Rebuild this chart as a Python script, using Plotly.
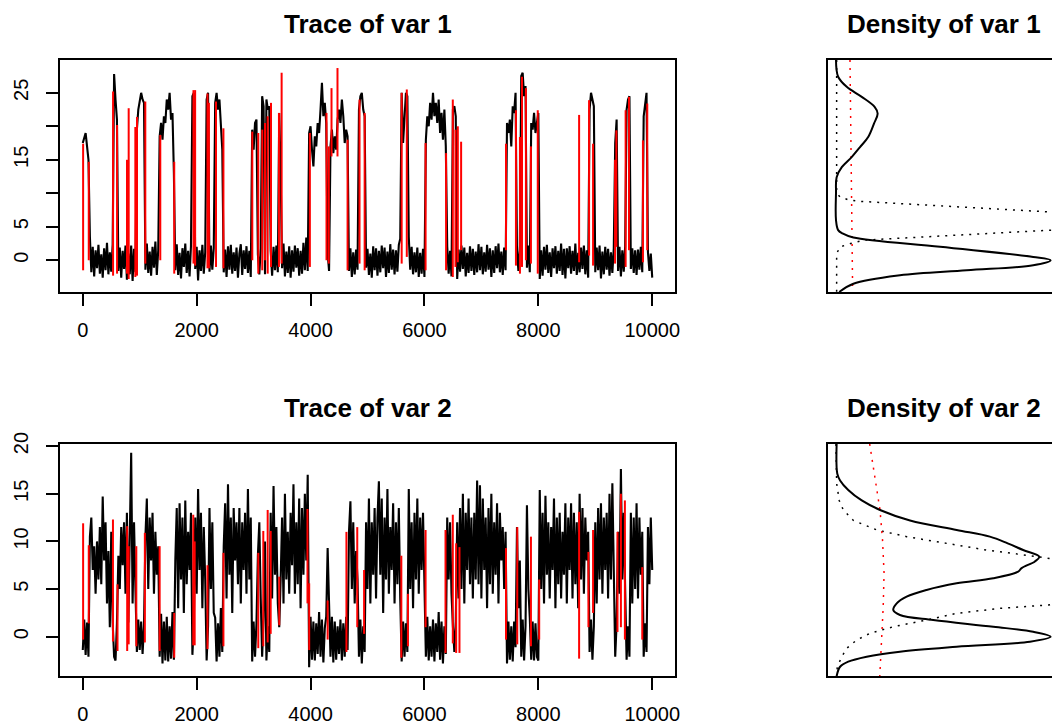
import plotly.graph_objects as go

# ---------------- data ----------------
iterations = list(range(0, 10001, 25))

var1_chain1 = [
    17.5, 18.5, 19.0, 17.0, 15.0, 3.5, -1.8, 2.0, -2.4, 1.5, -1.2, 2.3, -2.0, 0.9, -2.6, 1.8, -1.5, 2.6, -2.1, 1.2,
    -1.7, 2.4, 27.8, 24.0, 21.0, -1.6, 1.9, -2.6, 1.4, -1.3, 2.2, -2.9, 1.0, -2.1, 2.2, -3.1, 1.7, -1.8, 19.5, 22.5,
    23.5, 25.0, 24.0, 23.5, -1.4, 2.5, -1.9, 1.3, -2.3, 2.0, -1.1, 2.8, -2.2, 1.5, 18.5, 20.5, 18.0, 21.5, 20.5, 24.0,
    22.5, 25.0, 21.0, 22.0, 13.0, -1.5, 2.4, -2.2, 1.1, -2.7, 1.8, -1.0, 2.5, -1.9, 1.4, -2.4, 2.1, 24.5, 25.0, -1.3,
    2.0, -3.0, 1.5, -1.6, 2.3, -2.0, 1.2, 24.0, 25.0, -1.7, 2.2, -1.4, 1.8, 23.5, 25.0, 22.5, 24.0, 20.0, 16.5, -1.8,
    1.6, -2.5, 2.1, -1.4, 2.3, -2.0, 1.2, -1.6, 1.9, -2.6, 1.0, 2.4, -2.2, 1.5, -1.3, 2.1, -1.9, 1.4, -2.5, 19.5,
    16.5, 20.5, 21.0, 0.9, -2.1, 1.8, 24.5, 23.0, -2.1, 24.0, 22.5, 23.0, 1.4, -2.3, 2.0, -1.5, 2.2, -1.8, 22.0, 13.0,
    -1.2, 2.5, -2.4, 1.3, -1.9, 2.1, -2.6, 1.5, -1.7, 2.2, -1.1, 1.8, -2.3, 1.4, -2.0, 2.6, -1.5, 3.4, -1.6, 19.0,
    20.0, 16.5, 14.0, 18.5, 17.0, 20.5, 19.0, 22.5, 26.5, 21.5, 23.5, 20.5, 1.1, -1.6, 17.0, 19.5, 16.0, 18.5, 16.5, 21.0,
    22.5, 20.5, 24.0, 21.5, 17.5, 19.5, 18.5, -1.6, 1.8, -2.5, 1.2, -2.1, 1.6, -1.4, 22.5, 24.5, 25.0, 22.5, 21.5, -1.1,
    1.7, -2.2, 1.0, -2.6, 2.1, -1.5, 1.8, -2.3, 1.4, -1.8, 2.2, -1.2, 1.9, -2.5, 1.3, -1.9, 2.4, -1.4, 1.6, -2.1,
    1.5, -1.7, 2.3, 3.2, 25.0, 17.5, 22.0, 25.0, 24.5, 3.5, -1.4, 2.0, -2.1, 1.2, -1.8, 1.9, -2.5, 1.1, -2.0, 1.7,
    -2.5, 18.0, 21.5, 20.0, 23.5, 21.0, 25.0, 21.5, 23.5, 20.5, 24.0, 19.0, 22.0, 18.0, 22.5, 17.0, 2.1, -2.0, 1.4, -2.4,
    22.5, 23.0, 21.5, -2.8, 1.6, -1.7, 2.2, -1.3, 1.9, -2.4, 1.1, -1.9, 2.1, -1.6, 1.7, -2.2, 1.3, -1.8, 2.4, -1.5,
    2.0, -2.1, 1.2, -1.7, 2.3, -1.4, 1.8, -2.5, 1.5, -1.9, 2.1, -1.2, 2.5, -1.8, 1.3, -2.2, 1.9, -1.5, 20.5, 19.0,
    21.0, 17.0, 23.0, 22.0, 25.0, 1.4, -1.6, 2.1, 27.5, 28.0, 24.5, 26.0, -1.1, 2.2, -1.8, 20.5, 19.5, 22.0, 19.0, 21.0,
    22.0, -2.8, 1.5, -2.3, 2.0, -1.4, 2.3, -1.9, 1.2, -2.5, 1.8, -1.2, 2.1, -2.0, 1.4, -1.6, 2.5, -2.2, 1.7, -2.7,
    1.8, -1.2, 2.1, -2.0, 1.4, -1.6, 2.5, -2.2, 1.1, -1.8, 1.9, -1.3, 2.2, -2.1, 1.5, -2.6, 22.5, 25.0, 24.0, 23.0,
    -1.8, 1.9, -1.5, 2.2, -2.7, 1.3, -2.1, 2.0, -1.4, 1.7, -2.3, 1.2, -1.9, 1.8, 17.5, 21.0, -1.6, 2.0, -2.4, 1.5,
    -1.7, 2.1, 22.5, 24.0, 24.5, -1.3, 1.8, -1.9, 1.5, -2.2, 1.6, -1.4, 2.0, -1.8, 21.5, 23.0, 25.0, 1.2, -1.6, 1.0,
    -2.6,
]

var2_chain1 = [
    -1.4, 1.8, -1.9, 1.5, -2.1, 10.5, 12.5, 7.0, 9.5, 4.5, 10.0, 6.0, 11.5, 5.5, 14.7, 8.0, 12.0, 3.5, 9.0, 1.0,
    11.0, 1.5, -2.1, -2.5, 1.4, 8.5, 5.0, 11.5, 7.5, 12.0, 4.5, 13.0, 1.5, 9.0, 19.3, 3.5, 12.0, 5.0, -1.6, 1.8,
    -1.4, 1.6, -1.8, 1.1, 10.5, 14.5, 5.0, 12.5, 8.0, 13.0, 4.5, 11.0, 6.5, 9.5, -2.1, 2.4, -2.8, 1.6, -2.5, 2.1,
    -2.6, 1.1, -2.3, 2.6, -2.4, 8.0, 13.5, 3.0, 14.0, 6.0, 12.5, 2.5, 14.3, 5.5, 11.0, 7.0, 13.0, -1.9, 1.4, 12.5,
    4.5, 15.5, 7.0, 13.0, 3.0, 11.5, 6.0, -2.5, 1.1, 13.5, 5.0, 12.0, 2.5, 2.0, -2.6, 1.4, -2.1, 3.0, -1.6, 9.5,
    14.0, 4.0, 16.0, 6.5, 12.5, 2.5, 13.5, 8.0, 12.0, 5.5, 13.5, 3.5, 12.0, 7.0, 13.0, 4.5, 15.5, 6.0, 12.5, -2.6,
    1.6, -2.1, 1.4, 8.5, 12.0, 4.0, -2.1, 2.1, 10.0, -2.5, 1.1, -1.6, 13.0, 4.0, 15.8, 6.5, 11.5, 3.5, 1.0, 6.0,
    12.5, 3.5, 15.0, 6.0, 11.0, 4.5, 13.0, 7.5, 16.0, 4.5, 12.0, 5.5, 14.5, 3.0, 13.5, 6.5, 15.0, 8.0, 17.0, -3.2,
    2.1, -2.4, 1.6, -2.5, 1.4, -1.8, 2.6, -2.1, 1.8, -2.7, 0.9, 2.1, 9.3, 3.5, -2.1, 2.1, -2.7, 1.6, -2.4, 1.1,
    -1.8, 1.8, -2.5, 1.4, -2.1, 2.1, -1.4, 11.0, 14.2, 5.0, 12.0, 3.5, 9.0, 6.0, -2.1, 1.8, -2.8, 1.1, -1.6, 12.0,
    5.0, 14.5, 3.5, 12.0, 6.5, 13.5, 4.0, 12.5, 16.3, 6.5, 14.5, 2.5, 12.5, 6.0, 15.5, 4.5, 11.5, 7.0, 14.0, 3.5,
    12.0, 5.5, 13.5, 4.0, -2.6, 1.6, -2.1, 1.4, -1.6, 15.5, 5.0, 12.0, 3.0, 13.0, 6.0, 14.5, 4.5, 12.5, 7.0, 13.0,
    6.0, -2.1, 2.1, -2.5, 1.1, -2.1, 1.8, -2.6, 1.4, -1.6, 2.6, -2.4, 1.6, -2.8, 1.1, -1.8, 12.5, 6.0, 12.0, 4.5,
    1.1, -1.6, 1.6, 12.0, 4.0, 13.5, 5.0, 15.0, 3.5, 13.0, 7.0, 14.5, 5.5, 12.5, 4.0, 13.0, 6.0, 16.4, 5.5, 15.9,
    4.0, 14.5, 7.0, 12.5, 3.0, 13.5, 5.5, 15.0, 4.5, 12.0, 6.5, 14.0, 3.5, 13.0, 8.0, 11.5, 5.0, 11.0, -2.8, 1.6,
    -2.4, 1.1, -2.6, 1.6, -1.1, 11.5, 3.0, 8.0, -2.1, 1.8, -2.5, 1.1, 13.8, 5.0, 2.0, -2.4, 1.6, -2.5, 1.4, -2.1,
    -2.5, 15.4, 5.0, 13.0, 3.5, 14.8, 6.5, 12.0, 4.0, 11.5, 7.0, 14.5, 3.0, 12.5, 5.5, 13.0, 4.0, 11.0, 6.5, 14.0,
    3.5, 12.5, 7.0, 14.0, 4.0, 13.0, 5.5, 12.0, 3.0, 15.0, 6.0, 13.5, 4.5, 12.5, 8.0, 11.0, -1.6, 1.8, -2.4, 1.1,
    12.0, 3.5, 13.5, 6.0, 14.0, 4.5, 12.5, 7.0, 13.0, 4.0, 15.0, 6.0, 16.1, 5.5, -2.1, 1.4, 11.0, 4.5, 17.6, 6.0,
    13.0, 5.0, -2.4, 1.1, -2.1, 13.0, 3.5, 12.5, 5.0, 14.0, 4.0, 12.5, 6.5, 11.0, -2.1, 1.4, -1.6, 11.5, 5.5, 12.5,
    7.0,
]

# chain 2 (red): jumps of the chain (iteration, value before, value after)
var1_chain2_iter = [6, 105, 532, 602, 777, 806, 923, 952, 1098, 1361, 1606, 1944, 1973,
                    2190, 2215, 2340, 2470, 2977, 3082, 3152, 3200, 3247, 3305, 3445, 3492,
                    3988, 4280, 4320, 4368, 4473, 4650, 4860, 4950, 5600, 5690, 6020, 6380,
                    6498, 6545, 6586, 6644, 7432, 7607, 7677, 7713, 7782, 7870, 7990, 8716,
                    8891, 8961, 9347, 9370, 9533, 9592, 9837, 9913]
var1_chain2_from = [-1.5, 14.7, -2.3, 20.2, -2.0, -2.8, -2.5, -2.3, 23.7, 0.0, 14.7, -0.5, 25.4,
                    -1.2, 23.5, -1.0, 19.7, 0.0, -2.0, -1.5, 0.0, -2.0, 23.5, -1.0, 28.0,
                    -1.0, 22.0, -0.5, 15.5, 15.5, 18.0, -0.5, 22.0, -0.5, 25.5, -1.5, 16.0,
                    -2.5, 19.5, 20.0, 17.7, 1.5, 22.4, -2.0, -1.0, 25.7, -0.5, 22.4, -0.3,
                    0.7, 17.4, -0.5, 19.4, -1.0, 24.4, -0.3, 23.4]
var1_chain2_to = [17.4, 0.0, 25.2, -2.0, 15.0, 22.7, 19.9, 21.4, -0.5, 18.7, -2.0, 25.4, -0.8,
                  24.9, -1.2, 23.7, -1.2, 19.2, 19.0, 19.5, 20.5, 21.5, -1.0, 22.0, -0.5,
                  19.0, 0.0, 17.0, 25.7, 28.7, -1.5, 24.0, -1.5, 25.0, 0.5, 17.5, -1.5,
                  24.0, -1.0, -0.3, 1.5, 17.4, -0.8, 18.4, 27.4, 0.0, 17.0, -2.0, 21.7,
                  23.9, -0.8, 15.0, 2.0, 22.4, 1.5, 17.9, 1.5]

var2_chain2_iter = [6, 105, 530, 610, 780, 806, 940, 1090, 1350, 1606, 1940, 1965, 2190, 2470,
                    3082, 3170, 3247, 3300, 3450, 3946, 3976, 4300, 4630, 4820, 4940, 5594,
                    5710, 6020, 6370, 6498, 6557, 6615, 7432, 7630, 7870, 8015, 8716, 8880,
                    8961, 9390, 9450, 9520, 9825]
var2_chain2_from = [-0.3, 1.4, 12.3, -1.5, 11.6, -0.8, 9.5, -0.6, 9.5, -2.2, 12.8, -0.9, 7.5, -1.0,
                    -1.2, -1.0, -0.6, 11.1, 6.3, 13.4, 5.6, -0.3, -1.6, 11.5, 7.0, 8.5,
                    -1.0, 11.2, -1.7, 12.8, 9.8, 9.4, 9.3, 11.5, 10.5, -0.3, 13.1, 8.9,
                    2.5, 11.0, 15.0, 14.3, 7.3]
var2_chain2_to = [11.9, 9.6, -0.5, 5.5, -1.5, 9.5, -1.0, 10.9, -1.5, 2.5, -0.9, 10.0, -1.3, 8.8,
                  8.8, 11.1, 13.3, 0.3, 1.2, 3.5, -1.4, 3.8, 11.0, 1.0, 0.3, -2.2,
                  4.5, 1.0, 11.2, -0.7, -1.7, -1.7, -0.3, -0.8, -1.0, 6.0, -2.3, 1.0,
                  11.2, 0.5, 1.0, -0.3, -0.3]

# densities (value, relative density)
dens1_value = [29.9, 27.4, 25.9, 24.4, 22.9, 21.9, 20.4, 18.4, 16.9, 15.4, 13.9, 12.4, 10.0, 6.0,
               4.5, 4.0, 3.4, 2.0, 0.5, 0.0, -0.75, -1.5, -2.24, -3.5, -4.74]
dens1_solid = [0.0, 0.01, 0.05, 0.12, 0.18, 0.194, 0.177, 0.15, 0.112, 0.073, 0.027, 0.003, 0.0, 0.0,
               0.01, 0.03, 0.081, 0.485, 0.919, 1.0, 0.919, 0.609, 0.298, 0.081, 0.015]
dens1_dot_value = [29.9, 10.0, 9.46, 9.07, 8.82, 8.47, 7.97, 7.47, 7.22, 6.0, 5.0, 4.48, 3.24, 3.0,
                   2.49, 2.0, 1.0, -4.74]
dens1_dot = [0.003, 0.003, 0.019, 0.054, 0.10, 0.298, 0.577, 0.84, 0.99, 1.6, 1.5, 0.99, 0.236, 0.13,
             0.068, 0.019, 0.003, 0.003]
dens1_red_value = [29.9, 18.9, 9.0, -4.74]
dens1_red = [0.0652, 0.0699, 0.0745, 0.0776]

dens2_value = [20.22, 17.1, 16.4, 15.4, 14.3, 13.3, 12.2, 11.2, 10.5, 9.8, 9.1, 8.4, 7.9, 7.2, 6.82,
               6.13, 5.6, 4.9, 4.2, 3.5, 2.8, 2.28, 1.75, 1.05, 0.52, 0.0, -0.52, -1.05, -1.57,
               -2.1, -2.62, -3.15, -4.12]
dens2_solid = [0.003, 0.006, 0.019, 0.057, 0.12, 0.205, 0.345, 0.562, 0.717, 0.80, 0.872, 0.947,
               0.927, 0.865, 0.849, 0.733, 0.562, 0.422, 0.329, 0.283, 0.267, 0.298, 0.453, 0.733,
               0.919, 1.0, 0.904, 0.562, 0.298, 0.143, 0.057, 0.019, 0.003]
dens2_dot_value = [20.22, 16.1, 14.3, 13.3, 12.2, 11.2, 10.5, 9.8, 9.1, 8.5, 8.2, 7.5, 6.0, 4.5,
                   3.5, 3.33, 2.98, 2.45, 1.75, 1.05, 0.35, -0.35, -1.22, -2.1, -3.15, -4.12]
dens2_dot = [0.0, 0.003, 0.015, 0.034, 0.081, 0.19, 0.329, 0.516, 0.70, 0.904, 1.0, 1.12, 1.3, 1.25,
             1.04, 0.99, 0.764, 0.562, 0.422, 0.267, 0.158, 0.096, 0.05, 0.027, 0.006, 0.003]
dens2_red_value = [20.22, 16.8, 13.3, 10.1, 6.65, 3.15, -0.35, -3.5, -4.12]
dens2_red = [0.157, 0.182, 0.205, 0.217, 0.224, 0.22, 0.213, 0.205, 0.204]

titles = ["Trace of var 1", "Density of var 1", "Trace of var 2", "Density of var 2"]

# ---------------- figure ----------------
W, H = 1052, 724
FONT = "Liberation Sans, Arial, Helvetica, sans-serif"


def jumps(it, a, b):
    xs, ys = [], []
    for i, y0, y1 in zip(it, a, b):
        xs += [i, i, None]
        ys += [y0, y1, None]
    return xs, ys


fig = go.Figure()

fig.add_trace(go.Scatter(x=iterations, y=var1_chain1, mode="lines",
                         line=dict(color="black", width=2.1), xaxis="x", yaxis="y"))
rx, ry = jumps(var1_chain2_iter, var1_chain2_from, var1_chain2_to)
fig.add_trace(go.Scatter(x=rx, y=ry, mode="lines", line=dict(color="red", width=2.0),
                         xaxis="x", yaxis="y"))
fig.add_trace(go.Scatter(x=iterations, y=var2_chain1, mode="lines",
                         line=dict(color="black", width=2.1), xaxis="x3", yaxis="y3"))
rx, ry = jumps(var2_chain2_iter, var2_chain2_from, var2_chain2_to)
fig.add_trace(go.Scatter(x=rx, y=ry, mode="lines", line=dict(color="red", width=2.0),
                         xaxis="x3", yaxis="y3"))

fig.add_trace(go.Scatter(x=dens1_dot, y=dens1_dot_value, mode="lines",
                         line=dict(color="black", width=1.5, dash="2px,6px"), xaxis="x2", yaxis="y2"))
fig.add_trace(go.Scatter(x=dens1_red, y=dens1_red_value, mode="lines",
                         line=dict(color="red", width=1.5, dash="2px,6px"), xaxis="x2", yaxis="y2"))
fig.add_trace(go.Scatter(x=dens1_solid, y=dens1_value, mode="lines", line_shape="spline",
                         line=dict(color="black", width=2), xaxis="x2", yaxis="y2"))
fig.add_trace(go.Scatter(x=dens2_dot, y=dens2_dot_value, mode="lines",
                         line=dict(color="black", width=1.5, dash="2px,6px"), xaxis="x4", yaxis="y4"))
fig.add_trace(go.Scatter(x=dens2_red, y=dens2_red_value, mode="lines",
                         line=dict(color="red", width=1.5, dash="2px,6px"), xaxis="x4", yaxis="y4"))
fig.add_trace(go.Scatter(x=dens2_solid, y=dens2_value, mode="lines", line_shape="spline",
                         line=dict(color="black", width=2), xaxis="x4", yaxis="y4"))

trace_dom = [60 / W, 675 / W]
dens_dom = [827.7 / W, 1.0]
top_dom = [1 - 292 / H, 1 - 60 / H]
bot_dom = [1 - 676 / H, 1 - 444 / H]

tickfont = dict(family=FONT, size=20, color="black")
common_x = dict(showline=True, mirror=True, linecolor="black", linewidth=1.5, showgrid=False,
                zeroline=False, ticks="outside", ticklen=12, tickwidth=1.5, tickcolor="black",
                tickfont=tickfont, tickvals=[0, 2000, 4000, 6000, 8000, 10000],
                ticktext=["0", "2000", "4000", "6000", "8000", "10000"],
                range=[-400, 10400], ticklabelstandoff=7, automargin=False)
common_y = dict(showline=True, mirror=True, linecolor="black", linewidth=1.5, showgrid=False,
                zeroline=False, ticks="outside", ticklen=12, tickwidth=1.5, tickcolor="black",
                tickfont=tickfont, tickangle=-90, ticklabelstandoff=10, automargin=False)
dens_x = dict(showline=True, mirror=True, linecolor="black", linewidth=1.5, showgrid=False,
              zeroline=False, showticklabels=False, ticks="", range=[-0.03867, 1.00657],
              automargin=False)
dens_y = dict(showline=True, mirror=False, linecolor="black", linewidth=1.5, showgrid=False,
              zeroline=False, showticklabels=False, ticks="", automargin=False)

fig.update_layout(
    template="none",
    width=W, height=H, margin=dict(l=0, r=0, t=0, b=0, pad=0), autosize=False,
    paper_bgcolor="white", plot_bgcolor="white", showlegend=False,
    xaxis=dict(common_x, domain=trace_dom, anchor="y"),
    yaxis=dict(common_y, domain=top_dom, anchor="x", range=[-4.74, 29.9],
               tickvals=[0, 5, 10, 15, 20, 25], ticktext=["0", "5", "", "15", "", "25"]),
    xaxis3=dict(common_x, domain=trace_dom, anchor="y3"),
    yaxis3=dict(common_y, domain=bot_dom, anchor="x3", range=[-4.12, 20.22],
                tickvals=[0, 5, 10, 15, 20], ticktext=["0", "5", "10", "15", "20"]),
    xaxis2=dict(dens_x, domain=dens_dom, anchor="y2"),
    yaxis2=dict(dens_y, domain=top_dom, anchor="x2", range=[-4.74, 29.9]),
    xaxis4=dict(dens_x, domain=dens_dom, anchor="y4"),
    yaxis4=dict(dens_y, domain=bot_dom, anchor="x4", range=[-4.12, 20.22]),
)

title_pos = [(367.5, 24), (944, 24), (367.5, 408), (944, 408)]
for t, (px, py) in zip(titles, title_pos):
    fig.add_annotation(text="<b>" + t + "</b>", x=px / W, y=1 - py / H, xref="paper", yref="paper",
                       showarrow=False, xanchor="center", yanchor="middle",
                       font=dict(family=FONT, size=26, color="black"))

fig.write_html("out.html")
